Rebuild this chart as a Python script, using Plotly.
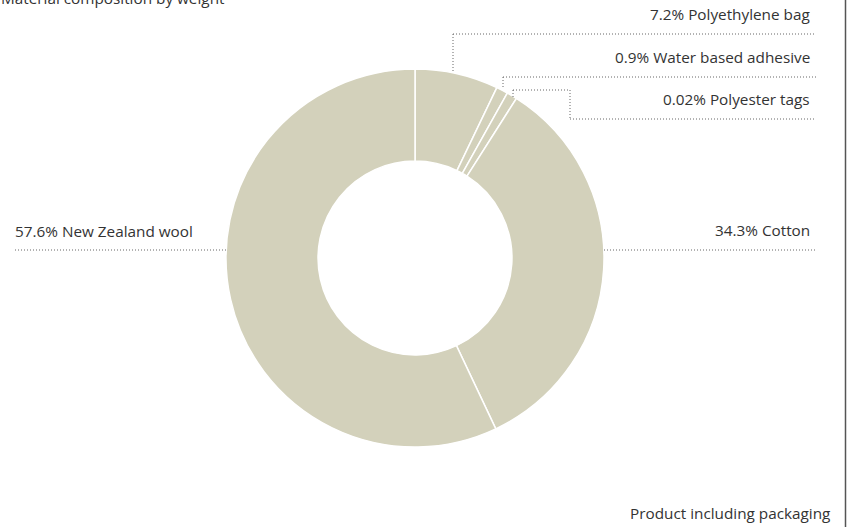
import plotly.graph_objects as go

W, H = 847, 527

# ---- data ----
materials = ["Polyethylene bag", "Water based adhesive", "Polyester tags", "Cotton", "New Zealand wool"]
percent_labels = ["7.2%", "0.9%", "0.02%", "34.3%", "57.6%"]
slice_values = [7.2, 1.0, 0.9, 34.3, 57.6]  # slice sizes as drawn
title_text = "Material composition by weight"
footer_text = "Product including packaging"

BEIGE = "#d3d1bb"
TEXT = "#333333"
FONT = "Open Sans"
FS = 15.3

def px(x):
    return x / W

def py(y):
    return 1 - y / H

cx, cy, r = 415, 258, 189

fig = go.Figure(go.Pie(
    labels=materials,
    values=slice_values,
    sort=False,
    direction="clockwise",
    rotation=0,
    hole=0.513,
    marker=dict(colors=[BEIGE] * len(materials), line=dict(color="white", width=1.5)),
    textinfo="none",
    hoverinfo="label",
    showlegend=False,
    domain=dict(x=[px(cx - r), px(cx + r)], y=[py(cy + r), py(cy - r)]),
))

line_style = dict(color="#666666", width=1, dash="1px,2px")
segments = [
    # polyethylene bag
    (453, 34, 453, 72), (453, 34, 816, 34),
    # water based adhesive
    (503, 77, 503, 88), (503, 77, 816, 77),
    # polyester tags
    (513, 90, 513, 97), (513, 90, 570, 90), (570, 90, 570, 119), (570, 119, 816, 119),
    # wool
    (15, 250, 226, 250),
    # cotton
    (604, 250, 816, 250),
]
shapes = [dict(type="line", xref="paper", yref="paper",
               x0=px(a), y0=py(b), x1=px(c), y1=py(d), line=line_style)
          for a, b, c, d in segments]
# right border
shapes.append(dict(type="line", xref="paper", yref="paper",
                   x0=px(845.5), y0=0, x1=px(845.5), y1=1,
                   line=dict(color="#555555", width=1.5)))

label_pos = [
    (812, 14, "right"),
    (812, 57, "right"),
    (812, 99, "right"),
    (812, 230, "right"),
    (13, 231, "left"),
]
annotations = []
for (x, y, anchor), pct, name in zip(label_pos, percent_labels, materials):
    annotations.append(dict(
        text=f"{pct} {name}", x=px(x), y=py(y), xref="paper", yref="paper",
        xanchor=anchor, yanchor="middle", showarrow=False,
        font=dict(family=FONT, size=FS, color=TEXT),
    ))
annotations.append(dict(
    text=title_text, x=px(-1), y=py(-2), xref="paper", yref="paper",
    xanchor="left", yanchor="middle", showarrow=False,
    font=dict(family=FONT, size=FS, color=TEXT),
))
annotations.append(dict(
    text=footer_text, x=px(832), y=py(513), xref="paper", yref="paper",
    xanchor="right", yanchor="middle", showarrow=False,
    font=dict(family=FONT, size=FS, color=TEXT),
))

fig.update_layout(
    width=W, height=H,
    margin=dict(l=0, r=0, t=0, b=0),
    paper_bgcolor="white",
    plot_bgcolor="white",
    shapes=shapes,
    annotations=annotations,
)

fig.write_html(
    "out.html",
    config={"displayModeBar": False},
    post_script="document.body.style.margin='0';document.body.style.overflow='hidden';",
)
